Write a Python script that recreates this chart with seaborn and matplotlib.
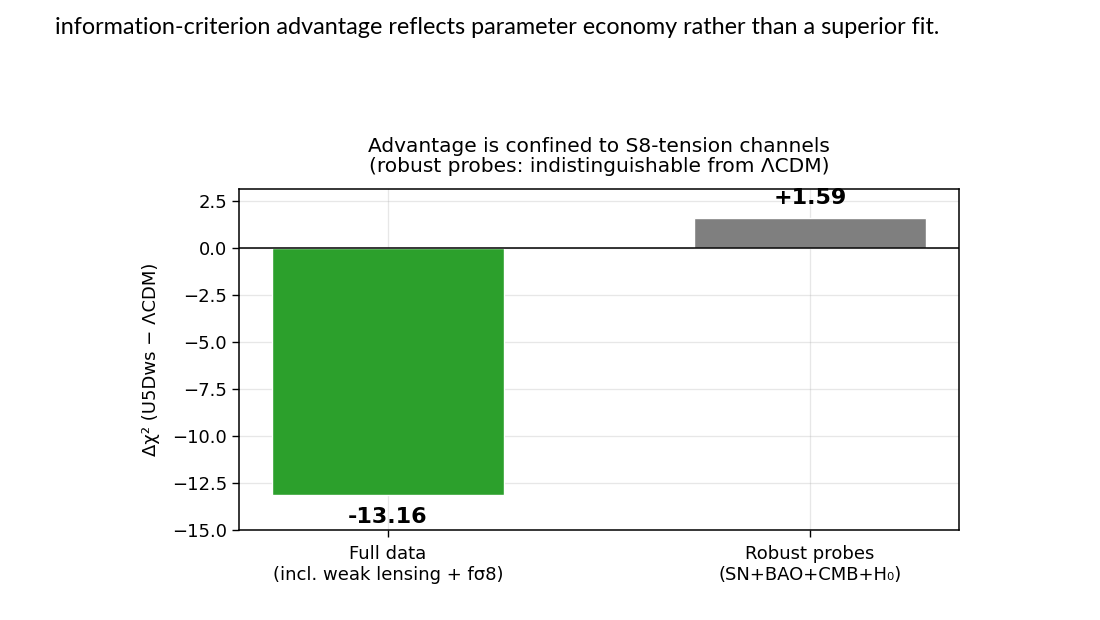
import matplotlib
matplotlib.use("Agg")
import matplotlib.pyplot as plt
import seaborn as sns
import pandas as pd

categories = ["Full data\n(incl. weak lensing + fσ8)", "Robust probes\n(SN+BAO+CMB+H₀)"]
values = [-13.16, 1.59]
value_labels = ["-13.16", "+1.59"]
colors = ["#2ca02c", "#7f7f7f"]
title = "Advantage is confined to S8-tension channels\n(robust probes: indistinguishable from ΛCDM)"
ylabel = "Δχ² (U5Dws − ΛCDM)"
header = "information-criterion advantage reflects parameter economy rather than a superior fit."

sns.set_style("ticks")
plt.rcParams["font.family"] = ["DejaVu Sans"]
plt.rcParams["text.color"] = "black"
plt.rcParams["axes.labelcolor"] = "black"
plt.rcParams["xtick.color"] = "black"
plt.rcParams["ytick.color"] = "black"

W, H = 1100, 620
fig = plt.figure(figsize=(W / 100, H / 100), dpi=100)
ax = fig.add_axes([239 / W, 1 - 530 / H, (959 - 239) / W, (530 - 189) / H])

df = pd.DataFrame({"cat": categories, "val": values})
sns.barplot(data=df, x="cat", y="val", hue="cat", palette=colors, width=0.55,
            legend=False, ax=ax, saturation=1)

ax.set_xlim(-0.353, 1.353)
ax.set_ylim(-15.0, 3.13)
ax.set_yticks([2.5, 0.0, -2.5, -5.0, -7.5, -10.0, -12.5, -15.0])
ax.grid(True, color="#b0b0b0", alpha=0.3, linewidth=0.9)
ax.set_axisbelow(True)
ax.axhline(0, color="black", linewidth=1.1)

for i, (v, lab) in enumerate(zip(values, value_labels)):
    if v < 0:
        ax.annotate(lab, (i, v), xytext=(0, -8.5), textcoords="offset points",
                    ha="center", va="top", fontsize=16, fontweight="bold", color="black")
    else:
        ax.annotate(lab, (i, v), xytext=(0, 7), textcoords="offset points",
                    ha="center", va="bottom", fontsize=16, fontweight="bold", color="black")

ax.set_xlabel("")
ax.set_ylabel(ylabel, fontsize=13, labelpad=8.5)
ax.set_title(title, fontsize=14.5, pad=12, linespacing=1.1, color="black")
ax.tick_params(axis="both", labelsize=13, length=5, width=1, colors="black")
ax.tick_params(axis="x", pad=5.5)
for lbl in ax.get_xticklabels():
    lbl.set_linespacing(1.25)
for s in ax.spines.values():
    s.set_color("black")
    s.set_linewidth(1.1)

fig.text(55 / W, 1 - 27 / H, header, ha="left", va="center", fontsize=16.8,
         family=["Lato", "DejaVu Sans"], color="black")

fig.savefig("out.png", dpi=100)
